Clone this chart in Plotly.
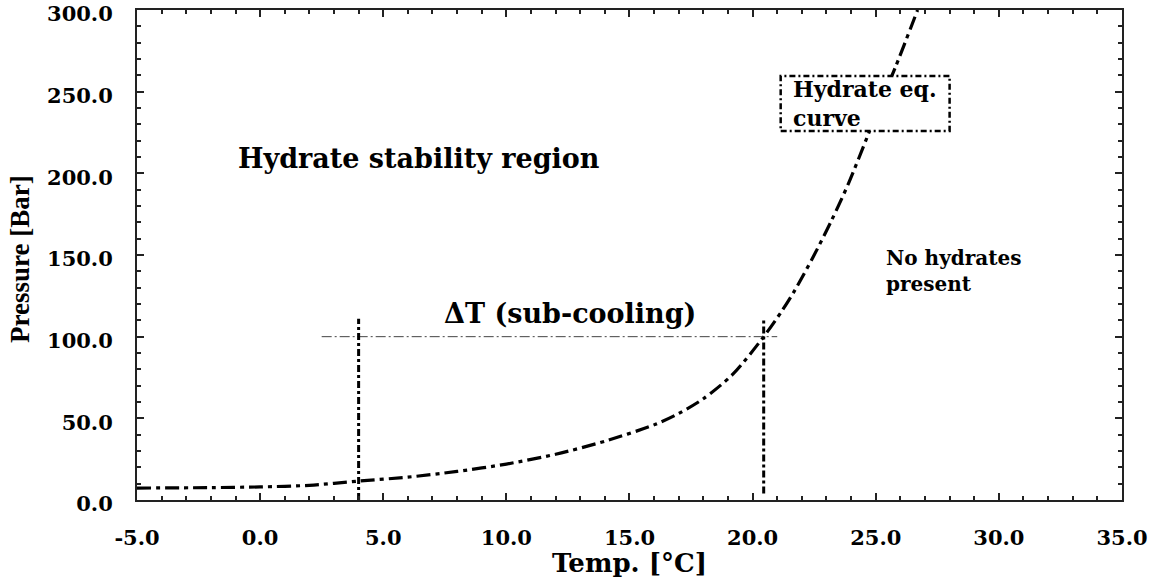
import plotly.graph_objects as go

# Hydrate equilibrium curve
temp_c = [-5.0, -2.0, 0.0, 2.0, 4.0, 6.0, 8.0, 10.0, 12.0, 14.0, 16.0, 17.0, 18.0, 19.2,
          20.45, 21.2, 21.7, 22.5, 23.2, 23.9, 24.7, 25.3, 25.8, 26.7]
pressure_bar = [7.3, 7.6, 8.0, 9.0, 11.6, 14.0, 17.5, 22.0, 28.0, 36.0, 46.0, 53.0, 62.0, 77.0,
                100.0, 116.0, 128.0, 150.0, 171.0, 194.0, 224.0, 247.0, 265.0, 300.0]

# Sub-cooling markers
sub_left_t = [4.0, 4.0]
sub_left_p = [0.0, 111.0]
sub_right_t = [20.45, 20.45]
sub_right_p = [4.0, 111.0]
sub_h_t = [2.5, 21.0]
sub_h_p = [100.0, 100.0]

x_ticks = [-5, 0, 5, 10, 15, 20, 25, 30, 35]
x_tick_labels = ["-5.0", "0.0", "5.0", "10.0", "15.0", "20.0", "25.0", "30.0", "35.0"]
y_ticks = [0, 50, 100, 150, 200, 250, 300]
y_tick_labels = ["0.0", "50.0", "100.0", "150.0", "200.0", "250.0", "300.0"]

SERIF = "DejaVu Serif"

fig = go.Figure()
fig.add_trace(go.Scatter(x=temp_c, y=pressure_bar, mode="lines", line_shape="spline",
                         line=dict(color="black", width=3.2, dash="14px,5px,4px,5px", smoothing=0.8),
                         showlegend=False))
fig.add_trace(go.Scatter(x=sub_h_t, y=sub_h_p, mode="lines",
                         line=dict(color="#444", width=1, dash="10px,3px,2px,3px"),
                         showlegend=False))
fig.add_trace(go.Scatter(x=sub_left_t, y=sub_left_p, mode="lines",
                         line=dict(color="black", width=3, dash="7px,3px,3px,3px"),
                         showlegend=False))
fig.add_trace(go.Scatter(x=sub_right_t, y=sub_right_p, mode="lines",
                         line=dict(color="black", width=3, dash="7px,3px,3px,3px"),
                         showlegend=False))

fig.add_shape(type="rect", x0=21.14, x1=28.0, y0=226, y1=259.6, layer="above",
              fillcolor="white",
              line=dict(color="black", width=2.5, dash="6px,3px,2px,3px"))

ann_font = dict(family=SERIF, color="black")
fig.add_annotation(x=6.46, y=208.8, text="<b>Hydrate stability region</b>", showarrow=False,
                   font=dict(size=27, **ann_font))
fig.add_annotation(x=12.6, y=113.9, text="<b>ΔT (sub-cooling)</b>", showarrow=False,
                   font=dict(size=27, **ann_font))
fig.add_annotation(x=25.35, y=140, text="<b>No hydrates<br>present</b>", showarrow=False,
                   xanchor="left", align="left", font=dict(size=20, **ann_font))
fig.add_annotation(x=21.54, y=243, text="<b>Hydrate eq.<br>curve</b>", showarrow=False,
                   xanchor="left", align="left", font=dict(size=22, **ann_font))

# Axis titles
fig.add_annotation(xref="paper", yref="paper", x=0.5, y=-0.1286, yanchor="middle",
                   text="<b>Temp. [°C]</b>", showarrow=False,
                   font=dict(family=SERIF, size=26, color="black"))
fig.add_annotation(xref="paper", yref="paper", x=-0.1188, y=0.492, xanchor="center",
                   yanchor="middle", textangle=-90,
                   text="<b>Pressure [Bar]</b>", showarrow=False,
                   font=dict(family="Liberation Serif", size=27, color="black"))

axis_common = dict(showline=True, linecolor="#222", linewidth=2, mirror="ticks",
                   ticks="inside", ticklen=7, tickwidth=1.5, tickcolor="#222",
                   showgrid=False, zeroline=False, automargin=False,
                   ticklabeloverflow="allow",
                   tickfont=dict(family=SERIF, size=21, color="black", weight="bold"))

fig.update_xaxes(range=[-5, 35.001], tickvals=x_ticks, ticktext=x_tick_labels,
                 minor=dict(dtick=1, ticks="inside", ticklen=4, tickcolor="#222", tick0=0),
                 ticklabelstandoff=18,
                 **axis_common)
fig.update_yaxes(range=[0, 300.01], tickvals=y_ticks, ticktext=y_tick_labels,
                 minor=dict(dtick=10, ticks="inside", ticklen=4, tickcolor="#222", tick0=0),
                 ticklabelstandoff=18, ticklabelshift=4,
                 **axis_common)

fig.update_layout(width=1149, height=581, margin=dict(l=137, r=27, t=10, b=81),
                  plot_bgcolor="white", paper_bgcolor="white")

fig.write_html("out.html")
